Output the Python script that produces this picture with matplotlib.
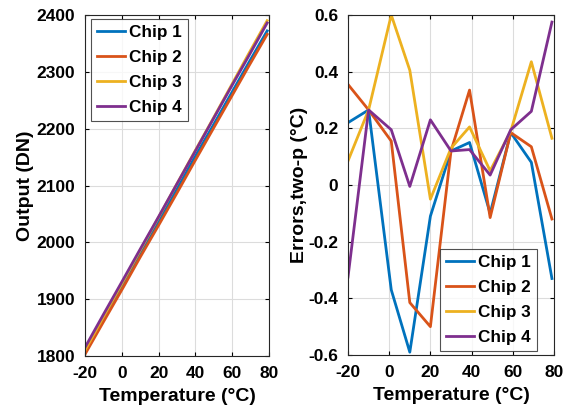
import matplotlib
matplotlib.use('Agg')
import matplotlib.pyplot as plt

plt.rcParams['font.family'] = ['Liberation Sans', 'DejaVu Sans']
plt.rcParams['font.weight'] = 'bold'
plt.rcParams['axes.unicode_minus'] = False

# 溫度點
temps = [-20, -10, 1, 10, 20, 30, 39, 49, 59, 69, 79]
chips = ['Chip 1', 'Chip 2', 'Chip 3', 'Chip 4']
colors = ['#0072BD', '#D95319', '#EDB120', '#7E2F8E']

# 輸出 (DN)
out_chip1 = [1810, 1867, 1929, 1981, 2037, 2094, 2146, 2202, 2259, 2316, 2372]
out_chip2 = [1803, 1860, 1922, 1974, 2030, 2087, 2139, 2196, 2253, 2310, 2366]
out_chip3 = [1810, 1869, 1933, 1986, 2044, 2103, 2156, 2214, 2273, 2332, 2390]
out_chip4 = [1815, 1873, 1936, 1988, 2045, 2103, 2155, 2213, 2271, 2328, 2386]

# 兩點校正誤差 (°C)
err_chip1 = [0.22, 0.265, -0.37, -0.59, -0.11, 0.12, 0.15, -0.10, 0.185, 0.08, -0.33]
err_chip2 = [0.355, 0.265, 0.155, -0.415, -0.50, 0.12, 0.335, -0.115, 0.185, 0.135, -0.12]
err_chip3 = [0.085, 0.265, 0.60, 0.405, -0.05, 0.13, 0.205, 0.05, 0.19, 0.435, 0.165]
err_chip4 = [-0.325, 0.265, 0.195, -0.005, 0.23, 0.12, 0.125, 0.035, 0.195, 0.26, 0.575]

outputs = [out_chip1, out_chip2, out_chip3, out_chip4]
errors = [err_chip1, err_chip2, err_chip3, err_chip4]

fig = plt.figure(figsize=(5.73, 4.12), dpi=100)
W, H = 573, 412
ax1 = fig.add_axes([85 / W, 1 - 356 / H, (269 - 85) / W, (356 - 15) / H])
ax2 = fig.add_axes([348 / W, 1 - 355 / H, (554 - 348) / W, (355 - 15) / H])

for ys, c, lab in zip(outputs, colors, chips):
    ax1.plot(temps, ys, color=c, linewidth=2, label=lab)
for ys, c, lab in zip(errors, colors, chips):
    ax2.plot(temps, ys, color=c, linewidth=2, label=lab)

ax1.set_xlim(-20, 80)
ax1.set_ylim(1800, 2400)
ax1.set_xticks([-20, 0, 20, 40, 60, 80])
ax1.set_yticks(range(1800, 2401, 100))
ax1.set_ylabel('Output (DN)', fontsize=14, fontweight='bold', labelpad=2)
ax1.set_xlabel('Temperature (°C)', fontsize=14, fontweight='bold', labelpad=5)

ax2.set_xlim(-20, 80)
ax2.set_ylim(-0.6, 0.6)
ax2.set_xticks([-20, 0, 20, 40, 60, 80])
ax2.set_yticks([-0.6, -0.4, -0.2, 0, 0.2, 0.4, 0.6])
ax2.set_yticklabels(['-0.6', '-0.4', '-0.2', '0', '0.2', '0.4', '0.6'])
ax2.set_ylabel('Errors,two-p (°C)', fontsize=14, fontweight='bold', labelpad=0)
ax2.set_xlabel('Temperature (°C)', fontsize=14, fontweight='bold', labelpad=5)

for ax in (ax1, ax2):
    ax.grid(True, color='#dcdcdc', linewidth=0.8)
    ax.set_axisbelow(True)
    ax.tick_params(direction='in', length=3, labelsize=12.5, top=True, right=True, pad=7)
    for lbl in ax.get_xticklabels() + ax.get_yticklabels():
        lbl.set_fontweight('bold')
    for sp in ax.spines.values():
        sp.set_color('#262626')
        sp.set_linewidth(0.8)

leg_kw = dict(frameon=True, fancybox=False, edgecolor='#262626',
              handlelength=1.65, handletextpad=0.25, borderpad=0.35, labelspacing=0.58,
              borderaxespad=0, prop={'weight': 'bold', 'size': 12.3})
l1 = ax1.legend(loc='upper left', bbox_to_anchor=(6 / 184, 1 - 4 / 341), **leg_kw)
l2 = ax2.legend(loc='lower right', bbox_to_anchor=(189 / 206, 4 / 340), **leg_kw)
for l in (l1, l2):
    l.get_frame().set_linewidth(0.8)

fig.savefig('out.png', dpi=100, facecolor='white')
